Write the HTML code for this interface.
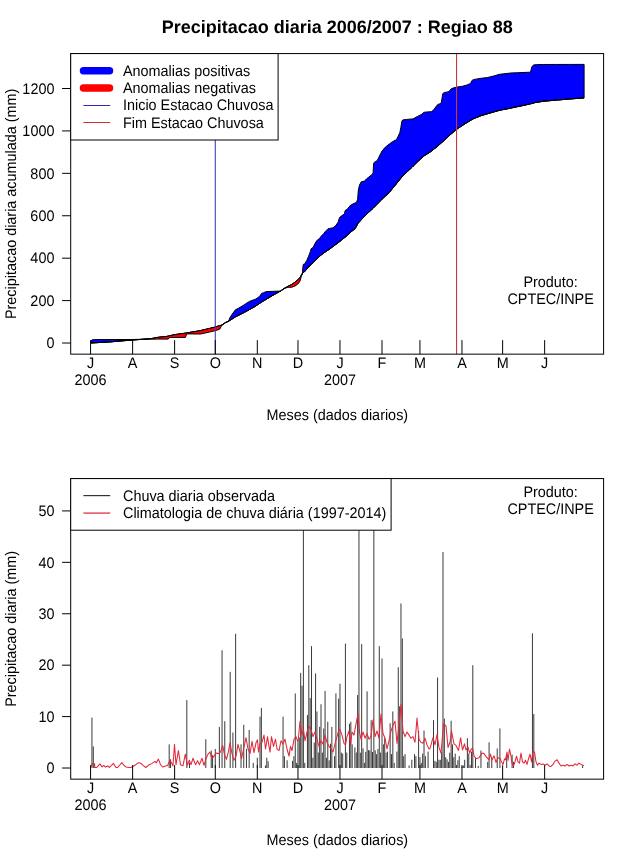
<!DOCTYPE html>
<html><head><meta charset="utf-8"><style>
html,body{margin:0;padding:0;background:#fff;width:640px;height:850px;overflow:hidden;}
svg{display:block;will-change:transform;}
text{font-family:"Liberation Sans", sans-serif;}
</style></head><body>
<svg width="640" height="850" viewBox="0 0 640 850" text-rendering="geometricPrecision" font-family="Liberation Sans, sans-serif">
<rect x="0" y="0" width="640" height="850" fill="#fff"/>
<text x="337.3" y="33.2" text-anchor="middle" font-family='"Liberation Sans", sans-serif' font-weight="bold" font-size="18px" fill="#000">Precipitacao diaria 2006/2007 : Regiao 88</text>
<polygon points="90.60,342.00 91.90,339.90 93.30,339.60 110.00,339.56 130.00,339.51 132.00,339.50 142.96,339.25 143.60,339.20 145.00,339.09 151.40,338.60 157.70,337.40 167.00,336.40 168.20,336.13 168.90,335.97 170.30,335.66 175.00,334.60 185.50,333.16 185.90,333.10 186.60,332.98 198.40,330.97 200.00,330.70 209.40,328.50 215.00,327.10 219.70,325.70 221.10,325.27 222.00,325.00 225.30,322.70 229.00,321.00 229.40,318.60 231.60,315.00 235.40,309.80 238.20,308.40 242.90,305.60 244.70,304.44 249.40,301.40 254.10,299.69 256.00,299.00 259.75,296.20 261.60,293.40 263.50,292.67 266.30,291.60 272.90,291.33 278.50,291.10 280.60,291.00 284.70,288.20 288.10,286.30 291.60,284.60 295.00,282.20 298.40,279.40 300.10,277.40 301.20,275.48 302.50,273.20 302.70,268.75 303.30,264.40 304.25,264.01 304.90,263.75 306.75,260.60 308.60,256.25 309.40,254.14 310.50,251.25 311.10,248.75 313.00,247.50 314.90,243.75 315.00,243.58 316.75,240.60 319.25,238.75 321.10,236.25 323.60,233.75 325.50,231.25 326.25,230.50 328.00,228.75 329.70,228.43 333.00,227.80 335.75,225.60 338.25,221.90 339.10,218.91 339.50,217.50 342.00,215.60 344.50,213.75 345.10,210.60 346.20,209.79 347.60,208.75 350.75,205.00 351.30,204.72 353.25,203.75 355.00,203.06 356.40,202.50 357.60,199.40 358.10,193.13 358.35,190.00 359.50,185.00 361.30,181.80 364.20,181.20 366.10,179.30 366.60,178.80 371.90,174.70 373.10,172.90 373.20,171.02 373.60,163.50 374.20,162.40 377.20,160.60 378.30,158.40 378.40,158.20 380.70,153.50 381.90,151.20 382.00,151.08 385.40,147.10 387.95,145.10 389.00,144.30 392.40,141.70 395.00,140.40 396.40,139.70 397.90,136.70 399.80,132.75 400.80,127.80 401.80,121.40 402.80,119.90 406.80,119.40 412.00,118.98 413.00,118.90 417.20,116.60 418.25,116.06 421.90,114.20 423.75,112.30 424.50,112.23 428.00,111.90 430.75,111.68 431.75,111.60 434.25,109.10 436.75,105.60 437.00,105.36 438.00,104.40 441.10,103.40 442.10,97.80 442.70,93.75 443.25,93.31 444.25,92.50 448.00,91.90 449.40,91.10 449.50,90.97 451.25,88.75 454.00,87.80 456.25,87.20 456.60,87.15 462.50,86.25 465.60,85.37 466.90,85.00 470.60,83.40 471.90,80.60 473.10,79.70 473.40,79.64 480.00,78.40 481.25,78.25 487.50,77.50 489.00,77.14 490.00,76.90 493.60,76.00 499.60,74.30 500.00,74.25 508.40,73.28 510.80,73.00 516.25,72.78 524.00,72.46 530.50,72.20 531.80,67.00 531.90,66.88 533.50,64.90 535.00,64.81 540.00,64.50 543.60,64.49 556.50,64.46 569.40,64.43 584.10,64.40 584.10,97.90 569.40,99.00 556.50,100.10 543.60,101.20 540.00,101.79 535.00,102.60 533.50,103.04 531.90,103.50 531.80,103.52 530.50,103.82 524.00,105.30 516.25,106.90 510.80,108.08 508.40,108.60 500.00,110.20 499.60,110.31 493.60,112.00 490.00,113.02 489.00,113.30 487.50,113.75 481.25,115.60 480.00,116.10 473.40,118.75 473.10,118.93 471.90,119.64 470.60,120.42 466.90,122.63 465.60,123.40 462.50,125.43 456.60,129.30 456.25,129.60 454.00,131.53 451.25,133.90 449.50,135.40 449.40,135.49 448.00,136.80 444.25,140.31 443.25,141.25 442.70,141.73 442.10,142.25 441.10,143.12 438.00,145.83 437.00,146.70 436.75,146.90 434.25,148.86 431.75,150.82 430.75,151.60 428.00,153.36 424.50,155.60 423.75,156.26 421.90,157.89 418.25,161.10 417.20,162.14 413.00,166.31 412.00,167.30 406.80,172.16 402.80,175.90 401.80,177.13 400.80,178.36 399.80,179.59 397.90,181.93 396.40,183.78 395.00,185.50 392.40,188.66 389.00,192.80 387.95,193.76 385.40,196.09 382.00,199.20 381.90,199.30 380.70,200.54 378.40,202.90 378.30,203.00 377.20,204.12 374.20,207.18 373.60,207.79 373.20,208.20 373.10,208.29 371.90,209.39 366.60,214.24 366.10,214.70 364.20,216.72 361.30,219.80 359.50,221.71 358.35,222.93 358.10,223.20 357.60,224.10 356.40,226.27 355.00,228.80 353.25,230.12 351.30,231.60 350.75,232.11 347.60,235.01 346.20,236.30 345.10,237.18 344.50,237.66 342.00,239.67 339.50,241.68 339.10,242.00 338.25,242.63 335.75,244.49 333.00,246.54 329.70,249.00 328.00,250.11 326.25,251.25 325.50,251.80 323.60,253.18 321.10,255.00 319.25,256.70 316.75,258.99 315.00,260.60 314.90,260.70 313.00,262.62 311.10,264.53 310.50,265.14 309.40,266.25 308.60,267.14 306.75,269.21 304.90,271.27 304.25,272.00 303.30,272.65 302.70,273.06 302.50,273.20 301.20,275.48 300.10,277.40 298.40,279.40 295.00,282.20 291.60,284.60 288.10,286.30 284.70,288.20 280.60,291.00 278.50,292.17 272.90,295.30 266.30,299.23 263.50,300.90 261.60,302.13 259.75,303.33 256.00,305.77 254.10,307.00 249.40,309.60 244.70,312.20 242.90,313.11 238.20,315.48 235.40,316.90 231.60,319.33 229.40,320.74 229.00,321.00 225.30,322.70 222.00,325.00 221.10,325.27 219.70,325.70 215.00,327.10 209.40,328.50 200.00,330.70 198.40,330.97 186.60,332.98 185.90,333.10 185.50,333.16 175.00,334.60 170.30,335.66 168.90,335.97 168.20,336.13 167.00,336.40 157.70,337.40 151.40,338.60 145.00,339.09 143.60,339.20 142.96,339.25 132.00,340.05 130.00,340.20 110.00,341.90 93.30,342.85 91.90,342.93 90.60,343.00" fill="#0000ff" stroke="#000" stroke-width="1" stroke-linejoin="round"/>
<polygon points="90.60,343.00 91.90,342.93 93.30,342.85 110.00,341.90 130.00,340.20 132.00,340.05 142.96,339.25 143.60,339.23 145.00,339.20 151.40,339.15 157.70,339.10 167.00,339.10 168.20,339.10 168.90,337.80 170.30,337.50 175.00,337.47 185.50,337.40 185.90,336.13 186.60,333.90 198.40,334.00 200.00,334.10 209.40,332.10 215.00,330.70 219.70,329.25 221.10,326.70 222.00,325.00 225.30,322.70 229.00,321.00 229.40,320.74 231.60,319.33 235.40,316.90 238.20,315.48 242.90,313.11 244.70,312.20 249.40,309.60 254.10,307.00 256.00,305.77 259.75,303.33 261.60,302.13 263.50,300.90 266.30,299.23 272.90,295.30 278.50,292.17 280.60,291.00 284.70,288.20 288.10,287.30 291.60,287.30 295.00,286.00 298.40,283.60 300.10,280.80 301.20,276.70 302.50,273.20 302.70,273.06 303.30,272.65 304.25,272.00 304.90,271.27 306.75,269.21 308.60,267.14 309.40,266.25 310.50,265.14 311.10,264.53 313.00,262.62 314.90,260.70 315.00,260.60 316.75,258.99 319.25,256.70 321.10,255.00 323.60,253.18 325.50,251.80 326.25,251.25 328.00,250.11 329.70,249.00 333.00,246.54 335.75,244.49 338.25,242.63 339.10,242.00 339.50,241.68 342.00,239.67 344.50,237.66 345.10,237.18 346.20,236.30 347.60,235.01 350.75,232.11 351.30,231.60 353.25,230.12 355.00,228.80 356.40,226.27 357.60,224.10 358.10,223.20 358.35,222.93 359.50,221.71 361.30,219.80 364.20,216.72 366.10,214.70 366.60,214.24 371.90,209.39 373.10,208.29 373.20,208.20 373.60,207.79 374.20,207.18 377.20,204.12 378.30,203.00 378.40,202.90 380.70,200.54 381.90,199.30 382.00,199.20 385.40,196.09 387.95,193.76 389.00,192.80 392.40,188.66 395.00,185.50 396.40,183.78 397.90,181.93 399.80,179.59 400.80,178.36 401.80,177.13 402.80,175.90 406.80,172.16 412.00,167.30 413.00,166.31 417.20,162.14 418.25,161.10 421.90,157.89 423.75,156.26 424.50,155.60 428.00,153.36 430.75,151.60 431.75,150.82 434.25,148.86 436.75,146.90 437.00,146.70 438.00,145.83 441.10,143.12 442.10,142.25 442.70,141.73 443.25,141.25 444.25,140.31 448.00,136.80 449.40,135.49 449.50,135.40 451.25,133.90 454.00,131.53 456.25,129.60 456.60,129.30 462.50,125.43 465.60,123.40 466.90,122.63 470.60,120.42 471.90,119.64 473.10,118.93 473.40,118.75 480.00,116.10 481.25,115.60 487.50,113.75 489.00,113.30 490.00,113.02 493.60,112.00 499.60,110.31 500.00,110.20 508.40,108.60 510.80,108.08 516.25,106.90 524.00,105.30 530.50,103.82 531.80,103.52 531.90,103.50 533.50,103.04 535.00,102.60 540.00,101.79 543.60,101.20 556.50,100.10 569.40,99.00 584.10,97.90 584.10,97.90 569.40,99.00 556.50,100.10 543.60,101.20 540.00,101.79 535.00,102.60 533.50,103.04 531.90,103.50 531.80,103.52 530.50,103.82 524.00,105.30 516.25,106.90 510.80,108.08 508.40,108.60 500.00,110.20 499.60,110.31 493.60,112.00 490.00,113.02 489.00,113.30 487.50,113.75 481.25,115.60 480.00,116.10 473.40,118.75 473.10,118.93 471.90,119.64 470.60,120.42 466.90,122.63 465.60,123.40 462.50,125.43 456.60,129.30 456.25,129.60 454.00,131.53 451.25,133.90 449.50,135.40 449.40,135.49 448.00,136.80 444.25,140.31 443.25,141.25 442.70,141.73 442.10,142.25 441.10,143.12 438.00,145.83 437.00,146.70 436.75,146.90 434.25,148.86 431.75,150.82 430.75,151.60 428.00,153.36 424.50,155.60 423.75,156.26 421.90,157.89 418.25,161.10 417.20,162.14 413.00,166.31 412.00,167.30 406.80,172.16 402.80,175.90 401.80,177.13 400.80,178.36 399.80,179.59 397.90,181.93 396.40,183.78 395.00,185.50 392.40,188.66 389.00,192.80 387.95,193.76 385.40,196.09 382.00,199.20 381.90,199.30 380.70,200.54 378.40,202.90 378.30,203.00 377.20,204.12 374.20,207.18 373.60,207.79 373.20,208.20 373.10,208.29 371.90,209.39 366.60,214.24 366.10,214.70 364.20,216.72 361.30,219.80 359.50,221.71 358.35,222.93 358.10,223.20 357.60,224.10 356.40,226.27 355.00,228.80 353.25,230.12 351.30,231.60 350.75,232.11 347.60,235.01 346.20,236.30 345.10,237.18 344.50,237.66 342.00,239.67 339.50,241.68 339.10,242.00 338.25,242.63 335.75,244.49 333.00,246.54 329.70,249.00 328.00,250.11 326.25,251.25 325.50,251.80 323.60,253.18 321.10,255.00 319.25,256.70 316.75,258.99 315.00,260.60 314.90,260.70 313.00,262.62 311.10,264.53 310.50,265.14 309.40,266.25 308.60,267.14 306.75,269.21 304.90,271.27 304.25,272.00 303.30,272.65 302.70,273.06 302.50,273.20 301.20,275.48 300.10,277.40 298.40,279.40 295.00,282.20 291.60,284.60 288.10,286.30 284.70,288.20 280.60,291.00 278.50,292.17 272.90,295.30 266.30,299.23 263.50,300.90 261.60,302.13 259.75,303.33 256.00,305.77 254.10,307.00 249.40,309.60 244.70,312.20 242.90,313.11 238.20,315.48 235.40,316.90 231.60,319.33 229.40,320.74 229.00,321.00 225.30,322.70 222.00,325.00 221.10,325.27 219.70,325.70 215.00,327.10 209.40,328.50 200.00,330.70 198.40,330.97 186.60,332.98 185.90,333.10 185.50,333.16 175.00,334.60 170.30,335.66 168.90,335.97 168.20,336.13 167.00,336.40 157.70,337.40 151.40,338.60 145.00,339.09 143.60,339.20 142.96,339.25 132.00,340.05 130.00,340.20 110.00,341.90 93.30,342.85 91.90,342.93 90.60,343.00" fill="#ff0000" stroke="#000" stroke-width="1" stroke-linejoin="round"/>
<line x1="215.29" y1="53.57" x2="215.29" y2="354.15" stroke="#4040b8" stroke-width="1.1"/>
<line x1="456.55" y1="53.57" x2="456.55" y2="354.15" stroke="#cc3838" stroke-width="1.1"/>
<rect x="70.70" y="53.57" width="532.90" height="300.58" fill="none" stroke="#000" stroke-width="1"/>
<line x1="90.59" y1="354.15" x2="90.59" y2="340.15" stroke="#000" stroke-width="1"/>
<text transform="translate(90.59,367.60) scale(0.9412,1)" text-anchor="middle" font-size="15.30px" fill="#000">J</text>
<line x1="132.61" y1="354.15" x2="132.61" y2="340.15" stroke="#000" stroke-width="1"/>
<text transform="translate(132.61,367.60) scale(0.9412,1)" text-anchor="middle" font-size="15.30px" fill="#000">A</text>
<line x1="174.62" y1="354.15" x2="174.62" y2="340.15" stroke="#000" stroke-width="1"/>
<text transform="translate(174.62,367.60) scale(0.9412,1)" text-anchor="middle" font-size="15.30px" fill="#000">S</text>
<line x1="215.29" y1="354.15" x2="215.29" y2="340.15" stroke="#000" stroke-width="1"/>
<text transform="translate(215.29,367.60) scale(0.9412,1)" text-anchor="middle" font-size="15.30px" fill="#000">O</text>
<line x1="257.30" y1="354.15" x2="257.30" y2="340.15" stroke="#000" stroke-width="1"/>
<text transform="translate(257.30,367.60) scale(0.9412,1)" text-anchor="middle" font-size="15.30px" fill="#000">N</text>
<line x1="297.97" y1="354.15" x2="297.97" y2="340.15" stroke="#000" stroke-width="1"/>
<text transform="translate(297.97,367.60) scale(0.9412,1)" text-anchor="middle" font-size="15.30px" fill="#000">D</text>
<line x1="339.98" y1="354.15" x2="339.98" y2="340.15" stroke="#000" stroke-width="1"/>
<text transform="translate(339.98,367.60) scale(0.9412,1)" text-anchor="middle" font-size="15.30px" fill="#000">J</text>
<line x1="382.00" y1="354.15" x2="382.00" y2="340.15" stroke="#000" stroke-width="1"/>
<text transform="translate(382.00,367.60) scale(0.9412,1)" text-anchor="middle" font-size="15.30px" fill="#000">F</text>
<line x1="419.95" y1="354.15" x2="419.95" y2="340.15" stroke="#000" stroke-width="1"/>
<text transform="translate(419.95,367.60) scale(0.9412,1)" text-anchor="middle" font-size="15.30px" fill="#000">M</text>
<line x1="461.97" y1="354.15" x2="461.97" y2="340.15" stroke="#000" stroke-width="1"/>
<text transform="translate(461.97,367.60) scale(0.9412,1)" text-anchor="middle" font-size="15.30px" fill="#000">A</text>
<line x1="502.63" y1="354.15" x2="502.63" y2="340.15" stroke="#000" stroke-width="1"/>
<text transform="translate(502.63,367.60) scale(0.9412,1)" text-anchor="middle" font-size="15.30px" fill="#000">M</text>
<line x1="544.65" y1="354.15" x2="544.65" y2="340.15" stroke="#000" stroke-width="1"/>
<text transform="translate(544.65,367.60) scale(0.9412,1)" text-anchor="middle" font-size="15.30px" fill="#000">J</text>
<text transform="translate(90.59,384.60) scale(0.9412,1)" text-anchor="middle" font-size="15.30px" fill="#000">2006</text>
<text transform="translate(339.98,384.60) scale(0.9412,1)" text-anchor="middle" font-size="15.30px" fill="#000">2007</text>
<line x1="62.10" y1="343.02" x2="70.70" y2="343.02" stroke="#000" stroke-width="1"/>
<text transform="translate(54.40,348.22) scale(0.9412,1)" text-anchor="end" font-size="15.30px" fill="#000">0</text>
<line x1="62.10" y1="300.60" x2="70.70" y2="300.60" stroke="#000" stroke-width="1"/>
<text transform="translate(54.40,305.80) scale(0.9412,1)" text-anchor="end" font-size="15.30px" fill="#000">200</text>
<line x1="62.10" y1="258.18" x2="70.70" y2="258.18" stroke="#000" stroke-width="1"/>
<text transform="translate(54.40,263.38) scale(0.9412,1)" text-anchor="end" font-size="15.30px" fill="#000">400</text>
<line x1="62.10" y1="215.76" x2="70.70" y2="215.76" stroke="#000" stroke-width="1"/>
<text transform="translate(54.40,220.96) scale(0.9412,1)" text-anchor="end" font-size="15.30px" fill="#000">600</text>
<line x1="62.10" y1="173.34" x2="70.70" y2="173.34" stroke="#000" stroke-width="1"/>
<text transform="translate(54.40,178.54) scale(0.9412,1)" text-anchor="end" font-size="15.30px" fill="#000">800</text>
<line x1="62.10" y1="130.92" x2="70.70" y2="130.92" stroke="#000" stroke-width="1"/>
<text transform="translate(54.40,136.12) scale(0.9412,1)" text-anchor="end" font-size="15.30px" fill="#000">1000</text>
<line x1="62.10" y1="88.50" x2="70.70" y2="88.50" stroke="#000" stroke-width="1"/>
<text transform="translate(54.40,93.70) scale(0.9412,1)" text-anchor="end" font-size="15.30px" fill="#000">1200</text>
<text transform="translate(337.30,420.20) scale(0.9412,1)" text-anchor="middle" font-size="15.30px" fill="#000">Meses (dados diarios)</text>
<text transform="translate(15.80,203.86) rotate(-90) scale(0.9412,1)" text-anchor="middle" font-size="15.30px" fill="#000">Precipitacao diaria acumulada (mm)</text>
<text transform="translate(550.60,287.10) scale(0.9412,1)" text-anchor="middle" font-size="15.30px" fill="#000">Produto:</text>
<text transform="translate(550.60,303.60) scale(0.9412,1)" text-anchor="middle" font-size="15.30px" fill="#000">CPTEC/INPE</text>
<rect x="70.70" y="53.57" width="207.40" height="86.43" fill="#fff" stroke="#000" stroke-width="1"/>
<line x1="83.5" y1="70.75" x2="109.5" y2="70.75" stroke="#0000ff" stroke-width="7.5" stroke-linecap="round"/>
<line x1="83.5" y1="87.95" x2="109.5" y2="87.95" stroke="#ff0000" stroke-width="7.5" stroke-linecap="round"/>
<line x1="83.4" y1="105.50" x2="110.2" y2="105.50" stroke="#2828b0" stroke-width="1"/>
<line x1="83.4" y1="122.50" x2="110.2" y2="122.50" stroke="#d03030" stroke-width="1"/>
<text transform="translate(123.00,75.95) scale(0.9412,1)" text-anchor="start" font-size="15.30px" fill="#000">Anomalias positivas</text>
<text transform="translate(123.00,93.15) scale(0.9412,1)" text-anchor="start" font-size="15.30px" fill="#000">Anomalias negativas</text>
<text transform="translate(123.00,110.40) scale(0.9412,1)" text-anchor="start" font-size="15.30px" fill="#000">Inicio Estacao Chuvosa</text>
<text transform="translate(123.00,127.70) scale(0.9412,1)" text-anchor="start" font-size="15.30px" fill="#000">Fim Estacao Chuvosa</text>
<path d="M91.95 768.02V717.63M93.30 768.02V746.42M94.66 768.02V763.39M169.20 768.02V744.37M170.56 768.02V759.28M186.82 768.02V700.15M189.53 768.02V762.88M205.80 768.02V739.22M211.22 768.02V750.54M212.58 768.02V755.16M215.29 768.02V748.99M219.35 768.02V726.88M222.06 768.02V650.27M224.77 768.02V721.23M230.20 768.02V671.86M232.91 768.02V732.54M235.62 768.02V633.81M241.04 768.02V744.37M243.75 768.02V724.83M246.46 768.02V748.99M249.17 768.02V729.97M253.24 768.02V762.88M257.30 768.02V757.74M260.01 768.02V716.60M261.37 768.02V707.86M265.44 768.02V765.45M266.79 768.02V757.74M268.15 768.02V761.34M283.06 768.02V716.60M284.41 768.02V756.19M287.12 768.02V760.31M292.54 768.02V760.82M293.90 768.02V756.19M295.26 768.02V693.46M296.61 768.02V762.88M297.97 768.02V742.50M299.32 768.02V737.62M300.68 768.02V672.89M302.03 768.02V685.75M303.39 768.02V480.07M304.74 768.02V762.88M307.45 768.02V715.06M308.81 768.02V665.18M310.16 768.02V698.09M311.52 768.02V646.15M312.88 768.02V757.74M314.23 768.02V742.58M315.59 768.02V673.41M316.94 768.02V711.46M318.30 768.02V752.59M319.65 768.02V726.88M321.01 768.02V704.26M322.36 768.02V752.59M323.72 768.02V728.53M325.07 768.02V690.89M326.43 768.02V757.74M327.78 768.02V721.74M329.14 768.02V760.31M330.50 768.02V743.72M331.85 768.02V726.88M334.56 768.02V756.19M335.92 768.02V693.46M338.63 768.02V698.60M339.98 768.02V683.69M341.34 768.02V752.59M342.69 768.02V753.62M345.41 768.02V643.58M346.76 768.02V752.59M349.47 768.02V723.80M350.83 768.02V721.74M352.18 768.02V744.37M354.89 768.02V747.45M356.25 768.02V752.45M357.60 768.02V695.00M358.96 768.02V480.07M360.31 768.02V752.70M361.67 768.02V644.10M363.03 768.02V748.42M364.38 768.02V762.88M365.74 768.02V751.86M367.09 768.02V691.40M368.45 768.02V750.02M369.80 768.02V750.57M371.16 768.02V720.20M372.51 768.02V752.07M373.87 768.02V480.07M375.22 768.02V750.34M376.58 768.02V754.14M377.93 768.02V748.99M379.29 768.02V646.15M380.65 768.02V752.59M382.00 768.02V658.50M383.36 768.02V744.37M384.71 768.02V738.20M386.07 768.02V752.59M387.42 768.02V751.57M390.13 768.02V723.28M391.49 768.02V754.14M392.84 768.02V711.46M394.20 768.02V762.88M396.91 768.02V751.57M398.27 768.02V667.24M399.62 768.02V706.32M400.98 768.02V603.48M402.33 768.02V638.44M403.69 768.02V756.19M405.04 768.02V754.14M409.11 768.02V765.45M411.82 768.02V759.79M414.53 768.02V754.14M415.89 768.02V756.19M418.60 768.02V731.00M419.95 768.02V757.09M421.31 768.02V762.88M422.66 768.02V753.60M424.02 768.02V730.48M425.37 768.02V756.19M428.08 768.02V751.57M433.51 768.02V720.20M434.86 768.02V760.82M436.22 768.02V761.85M437.57 768.02V677.52M438.93 768.02V759.79M440.28 768.02V759.79M441.64 768.02V752.08M442.99 768.02V552.06M444.35 768.02V718.66M445.70 768.02V757.19M447.06 768.02V759.28M448.42 768.02V761.85M449.77 768.02V752.73M451.13 768.02V720.71M452.48 768.02V744.37M453.84 768.02V757.22M455.19 768.02V753.60M456.55 768.02V764.93M457.90 768.02V760.21M459.26 768.02V756.19M461.97 768.02V766.48M463.32 768.02V765.45M464.68 768.02V759.79M467.39 768.02V738.20M468.75 768.02V753.62M470.10 768.02V764.93M471.46 768.02V751.57M472.81 768.02V665.18M475.52 768.02V757.74M478.23 768.02V765.96M480.95 768.02V750.54M487.72 768.02V761.85M489.08 768.02V742.31M491.79 768.02V757.74M497.21 768.02V748.48M499.92 768.02V728.43M506.70 768.02V753.62M512.12 768.02V754.65M513.47 768.02V761.85M532.45 768.02V633.30M533.81 768.02V714.03M582.60 768.02V765.45" stroke="#3a3a3a" stroke-width="1" fill="none"/>
<polyline points="90.60,766.48 91.60,765.45 92.50,763.39 95.00,767.51 96.50,767.51 100.00,763.91 102.00,766.99 103.60,765.45 105.50,766.99 107.80,765.96 109.50,767.51 113.40,763.39 116.00,767.51 117.60,767.51 121.90,762.62 124.00,765.45 126.00,766.99 129.00,767.51 131.00,767.51 134.50,765.45 138.70,762.62 141.00,763.39 143.00,765.45 145.80,767.51 149.30,764.68 152.00,763.39 155.00,761.34 156.30,762.88 158.40,759.07 160.50,764.68 162.70,766.99 165.50,765.96 167.60,765.45 169.70,760.56 171.00,761.85 173.00,765.96 174.50,744.37 176.00,764.68 178.40,750.54 180.50,764.68 183.00,765.71 185.30,754.14 187.40,765.19 189.30,760.31 191.00,764.68 193.00,758.25 195.50,764.68 197.60,760.82 199.50,764.68 202.00,758.25 204.00,765.45 206.00,758.76 208.00,754.14 210.00,752.08 212.00,758.76 214.00,756.19 216.00,753.11 218.50,753.62 220.50,752.08 222.70,745.40 224.50,754.65 226.50,759.28 228.50,751.05 230.00,742.82 232.00,753.62 234.00,760.31 236.00,756.19 238.00,744.37 240.00,751.57 241.50,758.76 243.50,749.51 246.00,737.68 248.00,748.99 250.00,753.62 252.00,741.28 254.00,752.59 256.00,742.82 257.50,739.74 258.50,752.08 260.00,743.85 262.00,742.31 264.00,735.11 265.50,748.99 267.50,736.65 268.50,743.34 270.00,752.08 271.50,736.65 273.50,746.42 275.50,739.22 277.00,748.99 279.00,750.54 281.00,740.77 283.00,743.85 285.00,739.22 287.00,748.99 289.00,756.19 290.50,746.42 292.00,750.54 294.00,739.22 296.00,736.65 298.00,742.31 300.00,721.23 302.00,735.11 303.50,729.45 305.00,740.77 307.00,732.03 309.00,726.37 311.00,729.45 313.00,736.65 315.00,732.03 317.00,739.22 319.00,746.42 321.00,740.77 323.00,743.85 325.00,735.11 327.00,742.31 329.00,746.42 331.00,748.99 333.00,752.08 335.00,743.85 337.00,736.65 339.00,729.45 340.00,729.45 342.00,735.11 344.00,743.34 345.50,744.88 347.00,736.65 349.00,731.00 350.50,744.88 352.00,732.03 354.00,735.11 356.00,723.80 358.00,714.03 359.50,732.03 361.00,739.22 363.00,732.03 365.00,738.20 367.00,733.57 369.00,739.22 371.00,736.65 373.00,719.69 375.00,736.65 377.00,731.00 379.00,738.20 381.00,714.03 383.00,733.57 385.00,738.20 387.00,748.99 389.00,740.77 391.00,731.00 393.00,725.34 395.00,721.23 397.00,743.34 399.00,725.34 401.00,704.26 403.00,731.00 405.00,736.65 407.00,732.03 409.00,735.11 411.00,738.20 413.00,736.65 415.00,742.31 417.00,718.14 419.00,739.22 421.00,742.31 423.00,743.34 425.00,738.20 427.00,744.88 429.00,748.99 430.00,748.48 433.00,737.68 435.00,744.88 437.00,734.60 439.00,747.45 441.00,753.11 443.50,723.80 446.00,725.86 448.00,747.45 450.00,742.31 451.50,731.00 454.00,743.85 456.00,745.40 458.50,750.54 460.60,737.68 462.50,750.02 464.50,743.85 466.00,750.02 468.00,746.94 469.60,753.11 471.00,749.51 472.50,747.97 474.00,755.68 476.00,758.76 479.00,757.74 482.00,753.11 484.00,753.62 487.00,757.74 489.00,759.79 490.50,754.14 492.00,759.79 494.00,755.68 496.00,762.36 498.00,757.74 500.00,758.25 501.50,761.85 503.00,764.42 504.50,758.76 505.50,759.79 507.00,752.08 508.00,760.31 509.50,748.99 511.00,756.19 512.00,763.14 513.50,765.96 515.00,761.85 516.50,756.19 518.00,761.85 519.50,763.14 521.00,753.11 522.50,761.85 524.00,763.14 525.50,760.31 527.00,764.42 528.50,758.76 530.00,754.14 531.50,761.85 533.00,751.05 534.50,752.08 536.00,761.85 537.50,765.19 539.00,763.14 541.00,764.42 543.00,763.91 545.00,765.19 547.00,763.91 549.00,765.96 551.00,766.48 553.00,764.42 555.00,761.08 557.00,759.79 559.00,763.14 561.00,765.96 563.00,765.19 565.00,765.96 567.00,764.42 569.00,765.96 571.00,765.19 573.00,765.96 575.00,763.91 577.00,765.19 579.00,763.14 581.00,764.42 583.00,765.19 584.10,765.45" fill="none" stroke="#e2283a" stroke-width="1.05" stroke-linejoin="round"/>
<rect x="70.70" y="478.57" width="532.90" height="300.58" fill="none" stroke="#000" stroke-width="1"/>
<line x1="90.59" y1="779.15" x2="90.59" y2="765.15" stroke="#000" stroke-width="1"/>
<text transform="translate(90.59,792.60) scale(0.9412,1)" text-anchor="middle" font-size="15.30px" fill="#000">J</text>
<line x1="132.61" y1="779.15" x2="132.61" y2="765.15" stroke="#000" stroke-width="1"/>
<text transform="translate(132.61,792.60) scale(0.9412,1)" text-anchor="middle" font-size="15.30px" fill="#000">A</text>
<line x1="174.62" y1="779.15" x2="174.62" y2="765.15" stroke="#000" stroke-width="1"/>
<text transform="translate(174.62,792.60) scale(0.9412,1)" text-anchor="middle" font-size="15.30px" fill="#000">S</text>
<line x1="215.29" y1="779.15" x2="215.29" y2="765.15" stroke="#000" stroke-width="1"/>
<text transform="translate(215.29,792.60) scale(0.9412,1)" text-anchor="middle" font-size="15.30px" fill="#000">O</text>
<line x1="257.30" y1="779.15" x2="257.30" y2="765.15" stroke="#000" stroke-width="1"/>
<text transform="translate(257.30,792.60) scale(0.9412,1)" text-anchor="middle" font-size="15.30px" fill="#000">N</text>
<line x1="297.97" y1="779.15" x2="297.97" y2="765.15" stroke="#000" stroke-width="1"/>
<text transform="translate(297.97,792.60) scale(0.9412,1)" text-anchor="middle" font-size="15.30px" fill="#000">D</text>
<line x1="339.98" y1="779.15" x2="339.98" y2="765.15" stroke="#000" stroke-width="1"/>
<text transform="translate(339.98,792.60) scale(0.9412,1)" text-anchor="middle" font-size="15.30px" fill="#000">J</text>
<line x1="382.00" y1="779.15" x2="382.00" y2="765.15" stroke="#000" stroke-width="1"/>
<text transform="translate(382.00,792.60) scale(0.9412,1)" text-anchor="middle" font-size="15.30px" fill="#000">F</text>
<line x1="419.95" y1="779.15" x2="419.95" y2="765.15" stroke="#000" stroke-width="1"/>
<text transform="translate(419.95,792.60) scale(0.9412,1)" text-anchor="middle" font-size="15.30px" fill="#000">M</text>
<line x1="461.97" y1="779.15" x2="461.97" y2="765.15" stroke="#000" stroke-width="1"/>
<text transform="translate(461.97,792.60) scale(0.9412,1)" text-anchor="middle" font-size="15.30px" fill="#000">A</text>
<line x1="502.63" y1="779.15" x2="502.63" y2="765.15" stroke="#000" stroke-width="1"/>
<text transform="translate(502.63,792.60) scale(0.9412,1)" text-anchor="middle" font-size="15.30px" fill="#000">M</text>
<line x1="544.65" y1="779.15" x2="544.65" y2="765.15" stroke="#000" stroke-width="1"/>
<text transform="translate(544.65,792.60) scale(0.9412,1)" text-anchor="middle" font-size="15.30px" fill="#000">J</text>
<text transform="translate(90.59,809.60) scale(0.9412,1)" text-anchor="middle" font-size="15.30px" fill="#000">2006</text>
<text transform="translate(339.98,809.60) scale(0.9412,1)" text-anchor="middle" font-size="15.30px" fill="#000">2007</text>
<line x1="62.10" y1="768.02" x2="70.70" y2="768.02" stroke="#000" stroke-width="1"/>
<text transform="translate(54.40,773.22) scale(0.9412,1)" text-anchor="end" font-size="15.30px" fill="#000">0</text>
<line x1="62.10" y1="716.60" x2="70.70" y2="716.60" stroke="#000" stroke-width="1"/>
<text transform="translate(54.40,721.80) scale(0.9412,1)" text-anchor="end" font-size="15.30px" fill="#000">10</text>
<line x1="62.10" y1="665.18" x2="70.70" y2="665.18" stroke="#000" stroke-width="1"/>
<text transform="translate(54.40,670.38) scale(0.9412,1)" text-anchor="end" font-size="15.30px" fill="#000">20</text>
<line x1="62.10" y1="613.76" x2="70.70" y2="613.76" stroke="#000" stroke-width="1"/>
<text transform="translate(54.40,618.96) scale(0.9412,1)" text-anchor="end" font-size="15.30px" fill="#000">30</text>
<line x1="62.10" y1="562.34" x2="70.70" y2="562.34" stroke="#000" stroke-width="1"/>
<text transform="translate(54.40,567.54) scale(0.9412,1)" text-anchor="end" font-size="15.30px" fill="#000">40</text>
<line x1="62.10" y1="510.92" x2="70.70" y2="510.92" stroke="#000" stroke-width="1"/>
<text transform="translate(54.40,516.12) scale(0.9412,1)" text-anchor="end" font-size="15.30px" fill="#000">50</text>
<text transform="translate(337.30,845.20) scale(0.9412,1)" text-anchor="middle" font-size="15.30px" fill="#000">Meses (dados diarios)</text>
<text transform="translate(15.80,628.86) rotate(-90) scale(0.9412,1)" text-anchor="middle" font-size="15.30px" fill="#000">Precipitacao diaria (mm)</text>
<text transform="translate(550.60,497.10) scale(0.9412,1)" text-anchor="middle" font-size="15.30px" fill="#000">Produto:</text>
<text transform="translate(550.60,513.60) scale(0.9412,1)" text-anchor="middle" font-size="15.30px" fill="#000">CPTEC/INPE</text>
<rect x="70.70" y="478.57" width="320.40" height="51.63" fill="#fff" stroke="#000" stroke-width="1"/>
<line x1="83.4" y1="495.6" x2="110.2" y2="495.6" stroke="#333" stroke-width="1.2"/>
<line x1="83.4" y1="513.1" x2="110.2" y2="513.1" stroke="#e03040" stroke-width="1.3"/>
<text transform="translate(123.00,500.80) scale(0.9412,1)" text-anchor="start" font-size="15.30px" fill="#000">Chuva diaria observada</text>
<text transform="translate(123.00,518.10) scale(0.9412,1)" text-anchor="start" font-size="15.30px" fill="#000">Climatologia de chuva diária (1997-2014)</text>
</svg>
</body></html>
